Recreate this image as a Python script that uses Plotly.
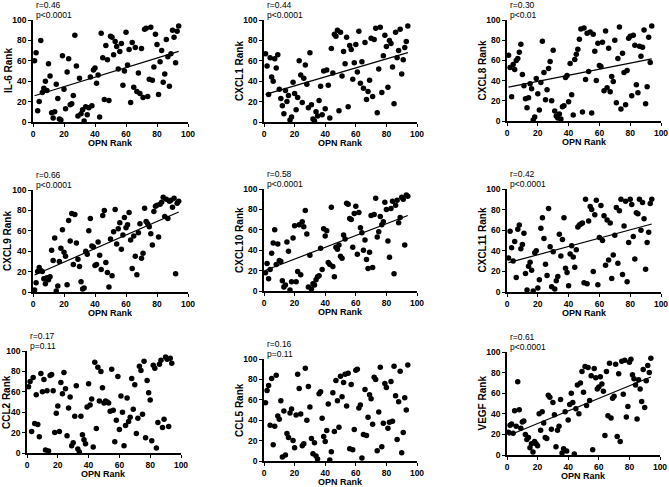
import numpy as np
import plotly.graph_objects as go

# OPN rank on the x axis (same for every panel)
opn_rank = list(range(1, 95))

il6 = [60, 68, 11, 20, 80, 29, 33, 40, 31, 57,
       45, 9, 4, 10, 37, 23, 3, 2, 65, 32,
       13, 49, 62, 17, 18, 26, 85, 55, 6, 43,
       8, 12, 1, 15, 7, 14, 44, 16, 51, 53,
       38, 46, 5, 87, 63, 22, 75, 61, 21, 84,
       83, 66, 79, 74, 52, 69, 77, 36, 50, 88,
       56, 71, 19, 78, 34, 73, 30, 48, 28, 72,
       24, 91, 92, 25, 42, 93, 41, 54, 86, 76,
       27, 59, 70, 39, 47, 81, 64, 35, 67, 90,
       83, 58, 89, 94]
cxcl1 = [67, 55, 27, 63, 44, 40, 62, 53, 66, 32,
         23, 16, 8, 31, 20, 26, 2, 5, 39, 28,
         12, 24, 60, 46, 19, 43, 56, 37, 14, 68,
         17, 3, 1, 10, 6, 21, 35, 7, 50, 13,
         51, 36, 4, 72, 48, 86, 84, 90, 11, 88,
         45, 69, 57, 83, 15, 75, 71, 42, 58, 76,
         49, 89, 38, 59, 33, 78, 22, 30, 41, 82,
         25, 81, 92, 9, 52, 93, 29, 65, 85, 74,
         34, 80, 77, 54, 18, 88, 63, 70, 91, 47,
         61, 73, 79, 94]
cxcl8 = [65, 53, 24, 56, 51, 60, 62, 68, 76, 46,
         35, 22, 13, 23, 37, 32, 1, 4, 42, 27,
         11, 38, 79, 48, 21, 31, 52, 59, 20, 70,
         10, 5, 3, 7, 2, 14, 15, 43, 45, 19,
         57, 26, 6, 61, 66, 71, 81, 91, 9, 92,
         41, 87, 49, 88, 8, 86, 69, 40, 77, 55,
         54, 78, 30, 89, 33, 72, 29, 44, 39, 80,
         18, 62, 93, 12, 67, 48, 16, 50, 82, 84,
         25, 85, 75, 36, 28, 74, 64, 73, 90, 17,
         34, 83, 58, 94]
cxcl9 = [2, 9, 20, 24, 21, 20, 13, 8, 14, 12,
         15, 41, 31, 53, 1, 6, 30, 43, 61, 39,
         35, 7, 70, 50, 77, 27, 76, 48, 32, 25,
         10, 3, 4, 40, 37, 60, 72, 45, 44, 26,
         27, 49, 36, 22, 75, 80, 29, 19, 5, 52,
         16, 59, 81, 47, 62, 68, 42, 56, 73, 63,
         66, 78, 51, 23, 55, 35, 17, 58, 67, 33,
         38, 82, 69, 67, 64, 57, 46, 79, 84, 85,
         54, 86, 88, 93, 74, 91, 72, 89, 90, 83,
         92, 18, 87, 89]
cxcl10 = [18, 27, 12, 21, 37, 47, 60, 26, 46, 30,
          29, 10, 4, 6, 48, 39, 1, 9, 52, 64,
          9, 19, 65, 16, 68, 63, 79, 56, 4, 35,
          2, 7, 6, 11, 14, 15, 42, 21, 61, 54,
          59, 28, 26, 82, 24, 14, 43, 41, 45, 34,
          32, 55, 51, 86, 85, 71, 70, 43, 76, 83,
          36, 77, 62, 57, 40, 50, 31, 22, 38, 74,
          23, 75, 91, 53, 58, 73, 65, 68, 87, 80,
          49, 33, 81, 88, 17, 84, 89, 67, 72, 92,
          90, 45, 94, 93]
cxcl11 = [33, 59, 43, 30, 49, 14, 61, 65, 42, 46,
          57, 18, 2, 25, 29, 21, 1, 38, 40, 4,
          12, 62, 72, 52, 27, 16, 81, 44, 5, 39,
          3, 11, 15, 56, 35, 51, 72, 23, 19, 6,
          37, 45, 34, 24, 41, 63, 65, 66, 67, 9,
          90, 8, 69, 83, 80, 20, 75, 89, 7, 53,
          84, 50, 74, 26, 70, 31, 67, 13, 36, 55,
          82, 28, 79, 90, 17, 64, 88, 10, 48, 90,
          85, 54, 32, 77, 76, 90, 60, 87, 71, 22,
          48, 58, 86, 90]
ccl2 = [65, 70, 21, 74, 29, 57, 28, 16, 78, 60,
        72, 3, 61, 2, 76, 77, 61, 20, 39, 46,
        21, 69, 58, 79, 63, 17, 44, 55, 7, 10,
        36, 66, 4, 1, 36, 18, 13, 9, 45, 68,
        47, 53, 6, 89, 24, 84, 51, 80, 64, 49,
        51, 50, 49, 41, 82, 42, 11, 32, 75, 23,
        56, 40, 7, 27, 54, 31, 35, 73, 43, 67,
        19, 34, 85, 81, 38, 90, 15, 71, 59, 52,
        12, 86, 83, 5, 30, 87, 91, 25, 33, 94,
        92, 26, 93, 88]
ccl5 = [57, 69, 74, 35, 81, 16, 34, 84, 44, 41,
        59, 4, 49, 6, 27, 23, 47, 51, 20, 13,
        45, 85, 71, 46, 15, 17, 91, 40, 73, 53,
        22, 7, 18, 5, 2, 66, 68, 42, 24, 19,
        30, 56, 1, 9, 67, 29, 79, 59, 33, 83,
        63, 77, 85, 54, 86, 12, 75, 11, 31, 89,
        90, 52, 55, 3, 26, 70, 25, 43, 65, 61,
        36, 82, 80, 10, 48, 92, 14, 37, 76, 72,
        32, 38, 78, 39, 93, 64, 21, 58, 88, 8,
        28, 62, 50, 94]
vegf = [22, 29, 30, 21, 43, 28, 71, 44, 26, 32,
        33, 20, 15, 17, 7, 11, 3, 13, 11, 9,
        40, 24, 42, 31, 17, 16, 58, 56, 25, 51,
        39, 8, 24, 28, 54, 2, 6, 42, 4, 34,
        49, 60, 51, 1, 45, 68, 40, 70, 81, 61,
        86, 48, 85, 53, 77, 5, 84, 75, 64, 66,
        76, 69, 62, 19, 81, 38, 89, 36, 55, 57,
        88, 18, 79, 13, 91, 59, 92, 37, 47, 90,
        93, 78, 74, 68, 35, 73, 64, 52, 83, 46,
        72, 87, 80, 94]

titles = ["IL-6 Rank", "CXCL1 Rank", "CXCL8 Rank",
          "CXCL9 Rank", "CXCL10 Rank", "CXCL11 Rank",
          "CCL2 Rank", "CCL5 Rank", "VEGF Rank"]
series = [il6, cxcl1, cxcl8, cxcl9, cxcl10, cxcl11, ccl2, ccl5, vegf]
r_text = ["r=0.46", "r=0.44", "r=0.30", "r=0.66", "r=0.58", "r=0.42",
          "r=0.17", "r=0.16", "r=0.61"]
p_text = ["p<0.0001", "p<0.0001", "p<0.01", "p<0.0001", "p<0.0001", "p<0.0001",
          "p=0.11", "p=0.11", "p<0.0001"]
# CCL2 and CCL5 are not significant -> no fit line drawn
show_fit = [True, True, True, True, True, True, False, False, True]

W, H = 669, 487
# plot boxes in pixels: left, right, top, bottom
boxes = [(33, 188, 20, 122), (264, 417, 20, 122), (507, 661, 20, 121),
         (33, 188, 190, 292), (264, 417, 189, 291), (507, 661, 189, 292),
         (27, 181, 351, 453), (264, 417, 359, 461), (507, 660, 352, 455)]

FONT = "Liberation Sans, Arial, sans-serif"
fig = go.Figure()
annos = []
for i, (t, y) in enumerate(zip(titles, series)):
    n = i + 1
    xa = "x" if n == 1 else f"x{n}"
    ya = "y" if n == 1 else f"y{n}"
    fig.add_trace(go.Scatter(x=opn_rank, y=y, mode="markers", xaxis=xa, yaxis=ya,
                             marker=dict(color="black", size=5.5), cliponaxis=False,
                             showlegend=False))
    if show_fit[i]:
        slope, icpt = np.polyfit(opn_rank, y, 1)
        xs = [min(opn_rank), max(opn_rank)]
        fig.add_trace(go.Scatter(x=xs, y=[slope * v + icpt for v in xs], mode="lines",
                                 xaxis=xa, yaxis=ya, line=dict(color="black", width=1.2),
                                 showlegend=False))
    l, r, tp, b = boxes[i]
    axis = dict(range=[0, 100], tickvals=[0, 20, 40, 60, 80, 100], showgrid=False,
                zeroline=False, showline=True, linecolor="black", linewidth=1.5,
                ticks="outside", ticklen=3, tickwidth=1.3, tickcolor="black",
                automargin=False,
                tickfont=dict(family=FONT, size=8.5, color="black", weight="bold"))
    fig.layout[f"xaxis{n}"] = dict(axis, domain=[l / W, r / W], anchor=ya)
    fig.layout[f"yaxis{n}"] = dict(axis, domain=[1 - b / H, 1 - tp / H], anchor=xa)
    # axis titles as annotations for exact placement
    annos.append(dict(x=(l + r) / 2 / W, y=1 - (b + 21) / H, xref="paper", yref="paper",
                      text="OPN Rank", showarrow=False, xanchor="center",
                      yanchor="middle",
                      font=dict(family=FONT, size=9, color="black", weight="bold")))
    annos.append(dict(x=max(l - 25, 6) / W, y=1 - (tp + b) / 2 / H, xref="paper",
                      yref="paper", text=t, showarrow=False, textangle=-90,
                      xanchor="center", yanchor="middle",
                      font=dict(family=FONT, size=10, color="black", weight="bold")))
    annos.append(dict(x=(l + 1) / W, y=1 - (tp - 15) / H, xref="paper", yref="paper",
                      text=r_text[i], showarrow=False, xanchor="left", yanchor="middle",
                      font=dict(family=FONT, size=8.5, color="black")))
    annos.append(dict(x=(l + 1) / W, y=1 - (tp - 5) / H, xref="paper", yref="paper",
                      text=p_text[i].replace("<", "&lt;"), showarrow=False,
                      xanchor="left", yanchor="middle",
                      font=dict(family=FONT, size=8.5, color="black")))

fig.update_layout(width=W, height=H, margin=dict(l=0, r=0, t=0, b=0),
                  paper_bgcolor="white", plot_bgcolor="white", annotations=annos,
                  font=dict(family=FONT, color="black"))
# drop the default page margin so the figure sits at the window's corner
fig.write_html("out.html", config={"displayModeBar": False},
               post_script="document.body.style.margin='0';")
